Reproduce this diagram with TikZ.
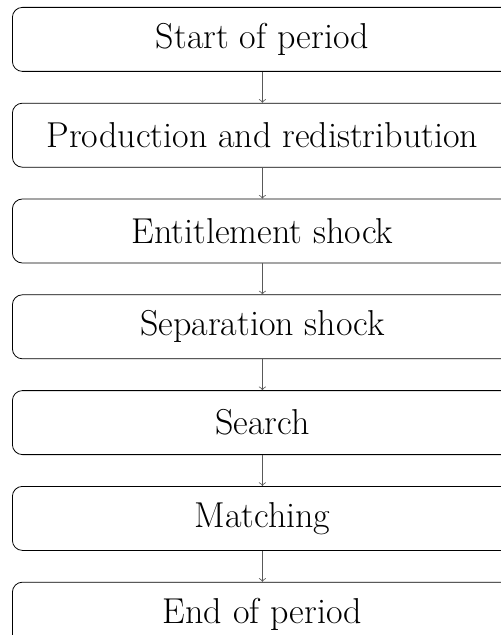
\documentclass[tikz,border=0pt]{standalone}
\usepackage{tikz}
\usetikzlibrary{positioning}

\begin{document}
\begin{tikzpicture}[
    stage/.style={draw, rounded corners=5pt, minimum width=250pt, minimum height=32pt,
        inner sep=0pt, font=\fontsize{18}{21}\selectfont},
    flow/.style={->, gray!70!black},
    node distance=15.5pt
]
    \useasboundingbox (0,0) rectangle (250.5pt,-317.5pt);
    \clip (0,0) rectangle (250.5pt,-317.5pt);
    \node (S0) [stage, anchor=north west] at (6pt,-3.5pt) {Start of period};
    \node (S1) [stage, below=of S0] {Production and redistribution};
    \node (S2) [stage, below=of S1] {Entitlement shock};
    \node (S3) [stage, below=of S2] {Separation shock};
    \node (S4) [stage, below=of S3] {Search};
    \node (S5) [stage, below=of S4] {Matching};
    \node (S6) [stage, below=of S5] {End of period};
    \draw[flow]
        (S0) edge (S1)
        (S1) edge (S2)
        (S2) edge (S3)
        (S3) edge (S4)
        (S4) edge (S5)
        (S5) edge (S6);

\end{tikzpicture}
\end{document}
